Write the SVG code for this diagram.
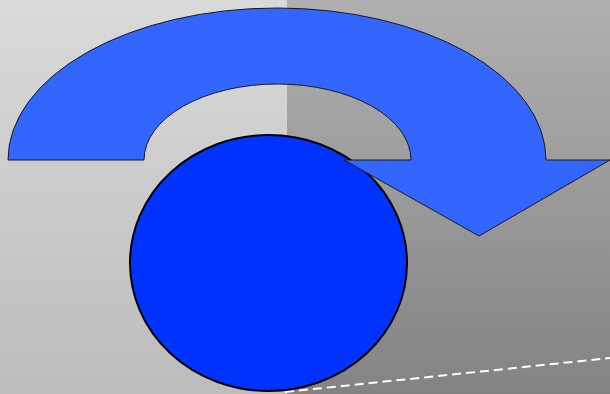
<svg xmlns="http://www.w3.org/2000/svg" width="610" height="394" viewBox="0 0 610 394">
<defs>
<linearGradient id="gl" x1="0" y1="0" x2="0" y2="1">
<stop offset="0" stop-color="#dadada"/>
<stop offset="1" stop-color="#bcbcbc"/>
</linearGradient>
<linearGradient id="gr" x1="0" y1="0" x2="0" y2="1">
<stop offset="0" stop-color="#b0b0b0"/>
<stop offset="1" stop-color="#838383"/>
</linearGradient>
</defs>
<style>
.arrow{fill:#3366ff;stroke:#1a1a1a;stroke-width:1;stroke-linejoin:miter}
.ball{fill:#0033ff;stroke:#000;stroke-width:2}
.dash{fill:none;stroke:#fff;stroke-width:2;stroke-dasharray:9 5}
</style>
<rect x="0" y="0" width="287" height="394" fill="url(#gl)"/>
<rect x="287" y="0" width="323" height="394" fill="url(#gr)"/>
<g id="connectors">
<line class="dash" x1="285" y1="392" x2="610" y2="358"/>
</g>
<g id="circle">
<ellipse class="ball" cx="268.5" cy="263" rx="138.5" ry="128"/>
</g>
<g id="curved-arrow">
<path class="arrow" d="M8,160 A269,152 0 0 1 546,160 L610,160 L479,236 L344,160 L411,160 A133.5,76 0 0 0 144,160 Z"/>
</g>
</svg>
